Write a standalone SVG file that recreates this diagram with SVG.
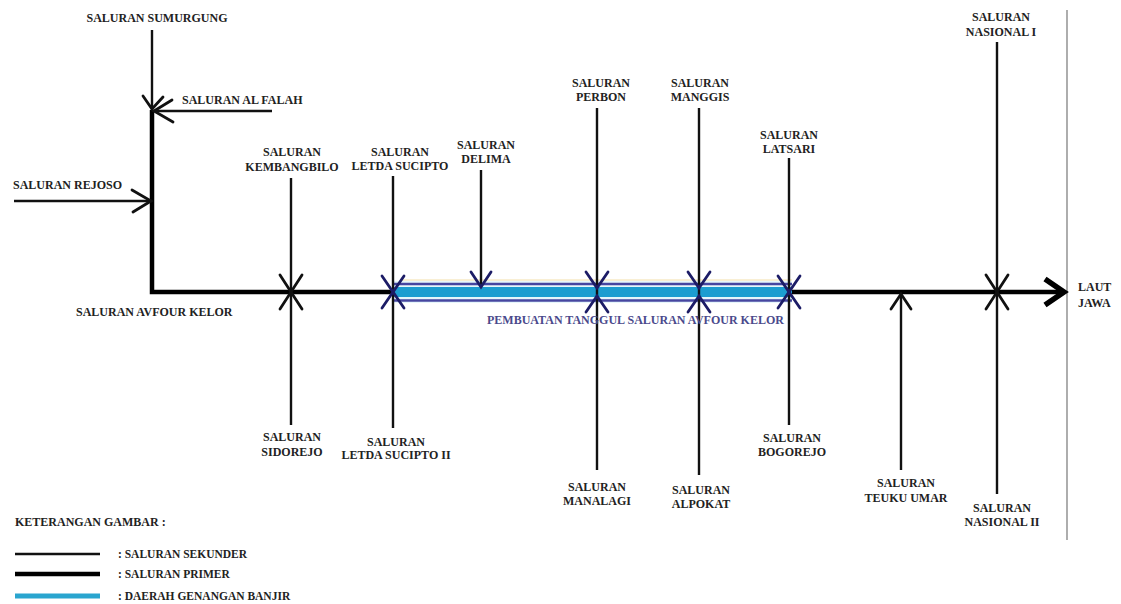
<svg xmlns="http://www.w3.org/2000/svg" width="1121" height="604" viewBox="0 0 1121 604">
<style>
.t{font-family:"Liberation Serif","Times New Roman",serif;font-weight:bold;font-size:12px;fill:#222}
.c{text-anchor:middle}
.sec{stroke:#111;stroke-width:2.4;fill:none}
.pri{stroke:#000;stroke-width:4.5;fill:none}
.ah{stroke:#111;stroke-width:2.8;fill:none;stroke-linecap:round;stroke-linejoin:miter}
.ahb{stroke:#1c1c66;stroke-width:2.8;fill:none;stroke-linecap:round}
.lg{font-size:11.5px}
</style>
<rect width="1121" height="604" fill="#fff"/>
<g id="connectors">
  <line x1="1067" y1="10" x2="1067" y2="540" stroke="#777" stroke-width="1.2"/>
  <path class="pri" d="M152,110 V292 H1062"/>
  <path d="M1045,279 L1064,292 L1045,305" fill="none" stroke="#000" stroke-width="5.5"/>
  <g id="flood">
    <rect x="393" y="281" width="399" height="22" fill="#e6f6fb"/>
    <line x1="400" y1="280" x2="792" y2="280" stroke="#f2dfa8" stroke-width="1"/>
    <line x1="393" y1="284" x2="792" y2="284" stroke="#4646a0" stroke-width="2.4"/>
    <line x1="393" y1="300.5" x2="792" y2="300.5" stroke="#4646a0" stroke-width="2.4"/>
    <line x1="393" y1="292" x2="792" y2="292" stroke="#1c9dd0" stroke-width="10"/>
  </g>
  <line class="sec" x1="152" y1="30" x2="152" y2="110"/>
  <path class="ah" d="M143,96 L152,109 L163,97"/>
  <line class="sec" x1="272" y1="111" x2="153" y2="111"/>
  <path class="ah" d="M172,100 L154,111 L173,122"/>
  <line class="sec" x1="14" y1="201" x2="152" y2="201"/>
  <path class="ah" d="M132,190 L151,201 L133,212"/>
  <line class="sec" x1="291" y1="178" x2="291" y2="425"/>
  <path class="ah" d="M280,275 L291,292 L302,275"/>
  <path class="ah" d="M280,309 L291,292 L302,309"/>
  <line class="sec" x1="393" y1="176" x2="393" y2="428"/>
  <path class="ahb" d="M382,276 L393,292 L404,276"/>
  <path class="ahb" d="M382,308 L393,292 L404,308"/>
  <line class="sec" x1="481" y1="170" x2="481" y2="287"/>
  <path class="ahb" d="M471,272 L481,287 L491,272"/>
  <line class="sec" x1="597" y1="108" x2="597" y2="470"/>
  <path class="ahb" d="M586,272 L597,288 L608,272"/>
  <path class="ahb" d="M586,312 L597,296 L608,312"/>
  <line class="sec" x1="699" y1="108" x2="699" y2="475"/>
  <path class="ahb" d="M688,272 L699,288 L710,272"/>
  <path class="ahb" d="M688,312 L699,296 L710,312"/>
  <line class="sec" x1="789" y1="158" x2="789" y2="425"/>
  <path class="ahb" d="M778,276 L789,292 L800,276"/>
  <path class="ahb" d="M778,308 L789,292 L800,308"/>
  <line class="sec" x1="901" y1="470" x2="901" y2="294"/>
  <path class="ah" d="M891,309 L901,294 L911,309"/>
  <line class="sec" x1="997" y1="42" x2="997" y2="494"/>
  <path class="ah" d="M986,275 L997,292 L1008,275"/>
  <path class="ah" d="M986,309 L997,292 L1008,309"/>
</g>
<g id="n-sumurgung"><text class="t c" x="157" y="22">SALURAN SUMURGUNG</text></g>
<g id="n-alfalah"><text class="t" x="182" y="104">SALURAN AL FALAH</text></g>
<g id="n-rejoso"><text class="t" x="13" y="189">SALURAN REJOSO</text></g>
<g id="n-kembangbilo"><text class="t c" x="292" y="156">SALURAN</text><text class="t c" x="292" y="171">KEMBANGBILO</text></g>
<g id="n-letda"><text class="t c" x="400" y="156">SALURAN</text><text class="t c" x="400" y="170">LETDA SUCIPTO</text></g>
<g id="n-delima"><text class="t c" x="486" y="149">SALURAN</text><text class="t c" x="486" y="163">DELIMA</text></g>
<g id="n-perbon"><text class="t c" x="601" y="87">SALURAN</text><text class="t c" x="601" y="101">PERBON</text></g>
<g id="n-manggis"><text class="t c" x="700" y="87">SALURAN</text><text class="t c" x="700" y="101">MANGGIS</text></g>
<g id="n-latsari"><text class="t c" x="789" y="139">SALURAN</text><text class="t c" x="789" y="153">LATSARI</text></g>
<g id="n-nasional1"><text class="t c" x="1001" y="21">SALURAN</text><text class="t c" x="1001" y="36">NASIONAL I</text></g>
<g id="n-laut"><text class="t" x="1078" y="291">LAUT</text><text class="t" x="1078" y="307">JAWA</text></g>
<g id="n-avfour"><text class="t" x="76" y="316">SALURAN AVFOUR KELOR</text></g>
<g id="n-tanggul"><text class="t" x="487" y="324" style="fill:#4a4a8c">PEMBUATAN TANGGUL SALURAN AVFOUR KELOR</text></g>
<g id="n-sidorejo"><text class="t c" x="292" y="441">SALURAN</text><text class="t c" x="292" y="456">SIDOREJO</text></g>
<g id="n-letda2"><text class="t c" x="396" y="446">SALURAN</text><text class="t c" x="396" y="459">LETDA SUCIPTO II</text></g>
<g id="n-manalagi"><text class="t c" x="597" y="491">SALURAN</text><text class="t c" x="597" y="505">MANALAGI</text></g>
<g id="n-alpokat"><text class="t c" x="701" y="494">SALURAN</text><text class="t c" x="701" y="508">ALPOKAT</text></g>
<g id="n-bogorejo"><text class="t c" x="792" y="442">SALURAN</text><text class="t c" x="792" y="456">BOGOREJO</text></g>
<g id="n-teuku"><text class="t c" x="906" y="487">SALURAN</text><text class="t c" x="906" y="502">TEUKU UMAR</text></g>
<g id="n-nasional2"><text class="t c" x="1002" y="512">SALURAN</text><text class="t c" x="1002" y="526">NASIONAL II</text></g>
<g id="legend">
  <text class="t" x="15" y="526">KETERANGAN GAMBAR :</text>
  <line x1="15" y1="554" x2="100" y2="554" stroke="#111" stroke-width="2.4"/>
  <text class="t lg" x="118" y="558">: SALURAN SEKUNDER</text>
  <line x1="15" y1="574" x2="100" y2="574" stroke="#000" stroke-width="4.5"/>
  <text class="t lg" x="118" y="578">: SALURAN PRIMER</text>
  <line x1="15" y1="596" x2="100" y2="596" stroke="#2aa5cf" stroke-width="5"/>
  <text class="t lg" x="118" y="600">: DAERAH GENANGAN BANJIR</text>
</g>
</svg>
